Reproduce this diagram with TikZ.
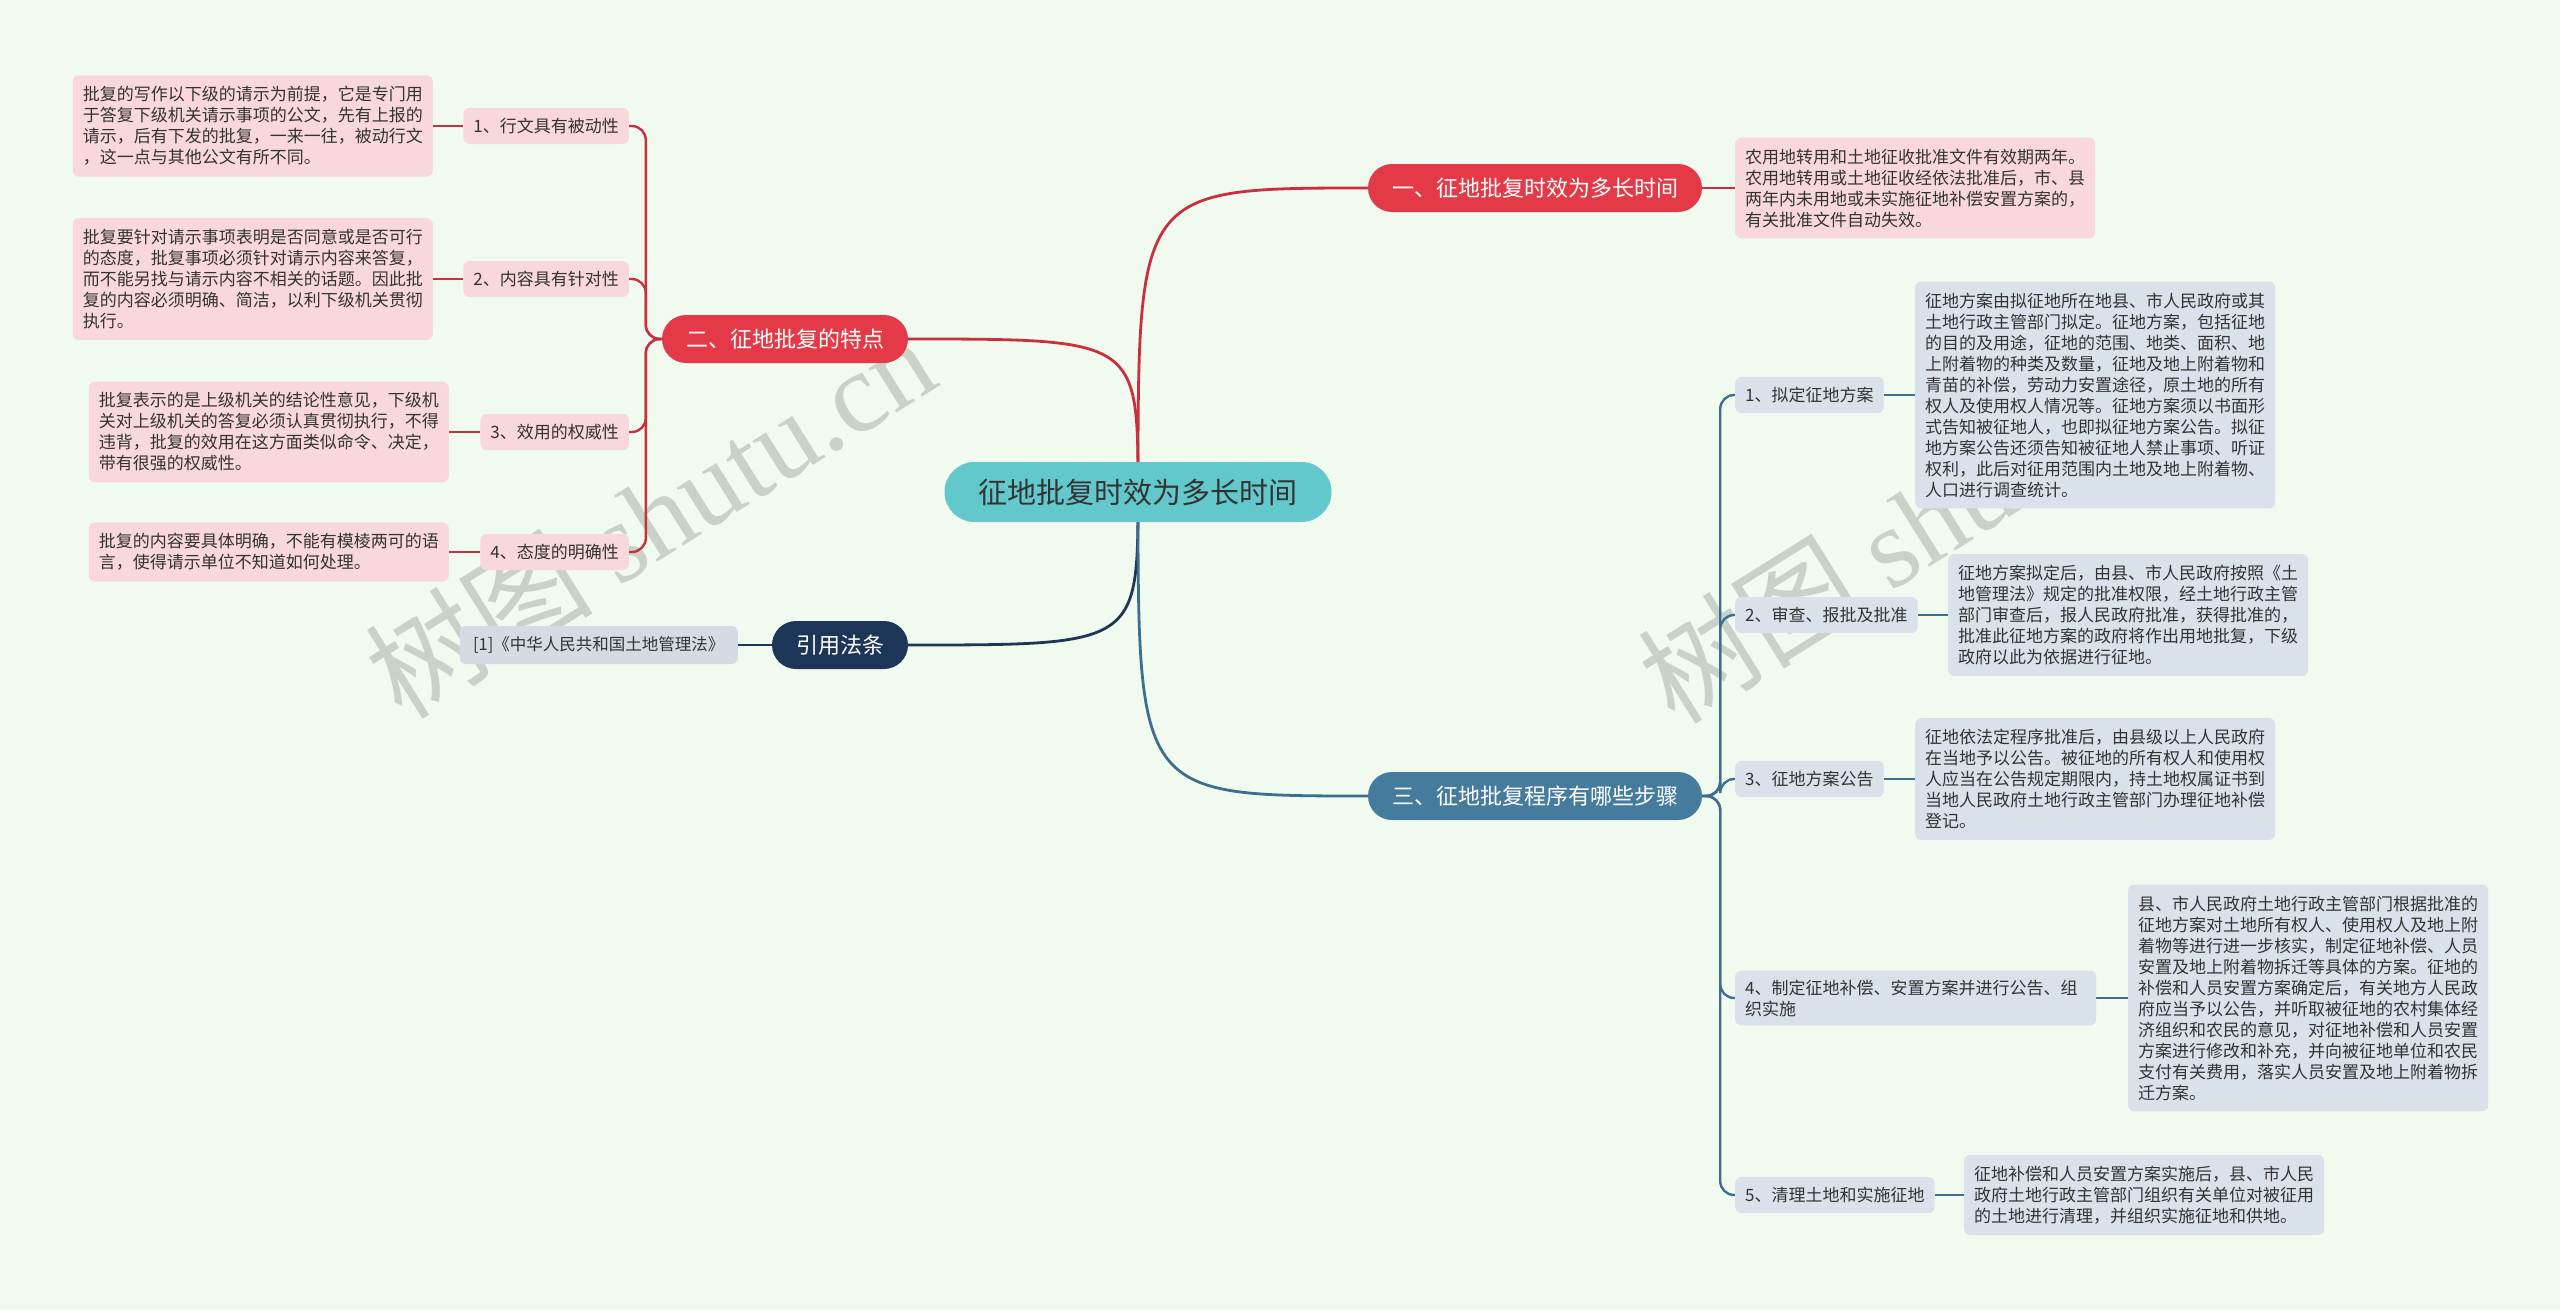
\documentclass[tikz,border=0pt]{standalone}
\usepackage{fontspec}
\setmainfont{Noto Sans CJK SC}
\newfontfamily\wmlatin{Liberation Serif}
\definecolor{bgc}{HTML}{F1FAEE}
\definecolor{redc}{HTML}{E43A47}
\definecolor{redline}{HTML}{C92F3C}
\definecolor{pinkc}{HTML}{F9D8DC}
\definecolor{tealc}{HTML}{62C8CB}
\definecolor{navyc}{HTML}{1D3557}
\definecolor{steelc}{HTML}{457B9D}
\definecolor{blueline}{HTML}{3D6E8F}
\definecolor{bluec}{HTML}{D9E2EA}
\definecolor{refc}{HTML}{D5DBE3}
\definecolor{txtc}{HTML}{333333}
\definecolor{wmc}{HTML}{A9B0A9}
\pgfdeclarelayer{bglayer}
\pgfdeclarelayer{linelayer}
\pgfsetlayers{bglayer,linelayer,main}
\begin{document}
\begin{tikzpicture}[x=1pt,y=-1pt,
  box/.style={rounded corners=6pt, inner xsep=10pt, inner ysep=11pt, align=left, text=txtc, font=\fontsize{17}{21}\selectfont},
  pinkbox/.style={box, fill=pinkc},
  bluebox/.style={box, fill=bluec},
  lab/.style={box, inner ysep=6pt, minimum height=36pt},
  branch/.style={rounded corners=24pt, minimum height=48pt, inner xsep=24pt, text=white, font=\fontsize{22}{26}\selectfont},
  rootnode/.style={rounded corners=30pt, minimum height=60pt, inner xsep=34pt, fill=tealc, text=txtc, font=\fontsize{29}{34}\selectfont},
  wm/.style={text=wmc, opacity=0.55, font=\fontsize{114}{120}\selectfont},
  mainline/.style={line width=2.8pt},
  subline/.style={line width=2.4pt, rounded corners=14pt}
]
\begin{pgfonlayer}{bglayer}
  \fill[bgc] (0,0) rectangle (2560,1310);
  \node[wm, rotate=32] (wmA) at (650,516) {树图 {\wmlatin shutu.cn}};
  \node[wm, rotate=32] (wmB) at (1922,521) {树图 {\wmlatin shutu.cn}};
\end{pgfonlayer}
\useasboundingbox (0,0) rectangle (2560,1310);

% root and branches
\node[rootnode] (root) at (1138,492) {征地批复时效为多长时间};
\node[branch, fill=redc] (b1) at (1535,188) {一、征地批复时效为多长时间};
\node[branch, fill=redc] (b2) at (785,339) {二、征地批复的特点};
\node[branch, fill=navyc] (bref) at (840,645) {引用法条};
\node[branch, fill=steelc] (b3) at (1535,796) {三、征地批复程序有哪些步骤};

% branch 1 detail
\node[pinkbox, anchor=west] (d1) at (1735,188) {农用地转用和土地征收批准文件有效期两年。\\农用地转用或土地征收经依法批准后，市、县\\两年内未用地或未实施征地补偿安置方案的，\\有关批准文件自动失效。};

% branch 2 children
\node[pinkbox, lab, anchor=east] (l1) at (629,126) {1、行文具有被动性};
\node[pinkbox, anchor=east] (e1) at (433,126) {批复的写作以下级的请示为前提，它是专门用\\于答复下级机关请示事项的公文，先有上报的\\请示，后有下发的批复，一来一往，被动行文\\，这一点与其他公文有所不同。};
\node[pinkbox, lab, anchor=east] (l2) at (629,279) {2、内容具有针对性};
\node[pinkbox, anchor=east] (e2) at (433,279) {批复要针对请示事项表明是否同意或是否可行\\的态度，批复事项必须针对请示内容来答复，\\而不能另找与请示内容不相关的话题。因此批\\复的内容必须明确、简洁，以利下级机关贯彻\\执行。};
\node[pinkbox, lab, anchor=east] (l3) at (629,432) {3、效用的权威性};
\node[pinkbox, anchor=east] (e3) at (449,432) {批复表示的是上级机关的结论性意见，下级机\\关对上级机关的答复必须认真贯彻执行，不得\\违背，批复的效用在这方面类似命令、决定，\\带有很强的权威性。};
\node[pinkbox, lab, anchor=east] (l4) at (629,552) {4、态度的明确性};
\node[pinkbox, anchor=east] (e4) at (449,552) {批复的内容要具体明确，不能有模棱两可的语\\言，使得请示单位不知道如何处理。};

% reference
\node[box, fill=refc, anchor=east, inner ysep=6pt, minimum height=38pt, minimum width=278pt, align=center, font=\fontsize{16.5}{20}\selectfont] (ref) at (738,645) {[1]《中华人民共和国土地管理法》};

% branch 3 children
\node[bluebox, lab, anchor=west] (r1) at (1735,395) {1、拟定征地方案};
\node[bluebox, anchor=west] (s1) at (1915,395) {征地方案由拟征地所在地县、市人民政府或其\\土地行政主管部门拟定。征地方案，包括征地\\的目的及用途，征地的范围、地类、面积、地\\上附着物的种类及数量，征地及地上附着物和\\青苗的补偿，劳动力安置途径，原土地的所有\\权人及使用权人情况等。征地方案须以书面形\\式告知被征地人，也即拟征地方案公告。拟征\\地方案公告还须告知被征地人禁止事项、听证\\权利，此后对征用范围内土地及地上附着物、\\人口进行调查统计。};
\node[bluebox, lab, anchor=west] (r2) at (1735,615) {2、审查、报批及批准};
\node[bluebox, anchor=west] (s2) at (1948,615) {征地方案拟定后，由县、市人民政府按照《土\\地管理法》规定的批准权限，经土地行政主管\\部门审查后，报人民政府批准，获得批准的，\\批准此征地方案的政府将作出用地批复，下级\\政府以此为依据进行征地。};
\node[bluebox, lab, anchor=west] (r3) at (1735,779) {3、征地方案公告};
\node[bluebox, anchor=west] (s3) at (1915,779) {征地依法定程序批准后，由县级以上人民政府\\在当地予以公告。被征地的所有权人和使用权\\人应当在公告规定期限内，持土地权属证书到\\当地人民政府土地行政主管部门办理征地补偿\\登记。};
\node[bluebox, anchor=west, text width=341pt, inner ysep=9pt] (r4) at (1735,998) {4、制定征地补偿、安置方案并进行公告、组\\织实施};
\node[bluebox, anchor=west] (s4) at (2128,998) {县、市人民政府土地行政主管部门根据批准的\\征地方案对土地所有权人、使用权人及地上附\\着物等进行进一步核实，制定征地补偿、人员\\安置及地上附着物拆迁等具体的方案。征地的\\补偿和人员安置方案确定后，有关地方人民政\\府应当予以公告，并听取被征地的农村集体经\\济组织和农民的意见，对征地补偿和人员安置\\方案进行修改和补充，并向被征地单位和农民\\支付有关费用，落实人员安置及地上附着物拆\\迁方案。};
\node[bluebox, lab, anchor=west] (r5) at (1735,1195) {5、清理土地和实施征地};
\node[bluebox, anchor=west] (s5) at (1964,1195) {征地补偿和人员安置方案实施后，县、市人民\\政府土地行政主管部门组织有关单位对被征用\\的土地进行清理，并组织实施征地和供地。};

\begin{pgfonlayer}{linelayer}
  % root to branches
  \draw[mainline, redline] (root.center) .. controls (root.center |- b1.west) .. (b1.west);
  \draw[mainline, redline] (root.center) .. controls (root.center |- b2.east) .. (b2.east);
  \draw[mainline, navyc] (root.center) .. controls (root.center |- bref.east) .. (bref.east);
  \draw[mainline, blueline] (root.center) .. controls (root.center |- b3.west) .. (b3.west);
  % branch 1
  \draw[subline, redline] (b1.east) -- (d1.west);
  % branch 2
  \foreach \c in {l1,l2,l3,l4}{
    \draw[subline, redline] (b2.west) -- ++(-16,0) |- (\c.east);
  }
  \draw[subline, redline] (e1.east) -- (l1.west);
  \draw[subline, redline] (e2.east) -- (l2.west);
  \draw[subline, redline] (e3.east) -- (l3.west);
  \draw[subline, redline] (e4.east) -- (l4.west);
  % reference
  \draw[subline, navyc] (bref.west) -- (ref.east);
  % branch 3
  \foreach \c in {r1,r2,r3,r4,r5}{
    \draw[subline, blueline] (b3.east) -- ++(18,0) |- (\c.west);
  }
  \draw[subline, blueline] (r1.east) -- (s1.west);
  \draw[subline, blueline] (r2.east) -- (s2.west);
  \draw[subline, blueline] (r3.east) -- (s3.west);
  \draw[subline, blueline] (r4.east) -- (s4.west);
  \draw[subline, blueline] (r5.east) -- (s5.west);
\end{pgfonlayer}
\end{tikzpicture}
\end{document}
